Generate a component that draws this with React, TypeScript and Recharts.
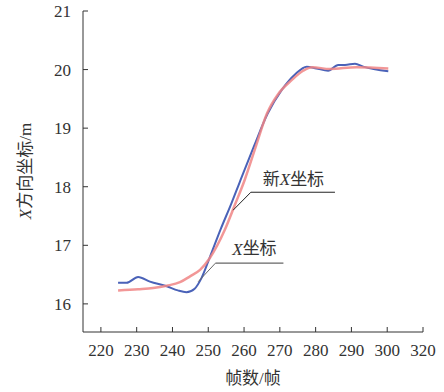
import React from "react"
import {
  LineChart,
  Line,
  XAxis,
  YAxis,
  ReferenceLine,
  ReferenceDot,
} from "recharts"

// ── Data ─────────────────────────────────────────────────────────────────────
const xTicks = [220, 230, 240, 250, 260, 270, 280, 290, 300, 310]
const xTickLabels = ["220", "230", "240", "250", "260", "270", "280", "290", "300", "320"]
const yTicks = [16, 17, 18, 19, 20, 21]

// X坐标 (raw)
const rawFrames = [224.8, 227.2, 230.4, 233.7, 238.4, 241.5, 243.9, 246.2, 248.1, 250.4, 253.5, 256.5, 258.8, 262.7, 266.6, 270.5, 274.3, 277.5, 280.2, 283.5, 286.3, 288.2, 291, 293.3, 300.3]
const rawX = [16.36, 16.36, 16.46, 16.38, 16.3, 16.23, 16.2, 16.26, 16.44, 16.79, 17.28, 17.72, 18.08, 18.68, 19.25, 19.65, 19.92, 20.05, 20.02, 19.98, 20.08, 20.08, 20.1, 20.05, 19.97]

// 新X坐标 (smoothed)
const newFrames = [224.8, 230.4, 234.6, 238.4, 242.1, 244.9, 247.7, 250.4, 254.6, 257.5, 260.2, 263.3, 266.4, 269.5, 273.3, 276.5, 279, 284, 291.4, 300.3]
const newX = [16.23, 16.25, 16.27, 16.31, 16.37, 16.47, 16.58, 16.78, 17.26, 17.7, 18.12, 18.69, 19.25, 19.58, 19.82, 19.98, 20.04, 20.01, 20.04, 20.02]

const rawData = rawFrames.map((f, i) => ({ frame: f, value: rawX[i] }))
const newData = newFrames.map((f, i) => ({ frame: f, value: newX[i] }))

const FONT = "'Liberation Serif', 'Noto Sans CJK SC', serif"
const TEXT = "#333"

function AnnotationText({ viewBox, children }: any) {
  const cx = viewBox.x + viewBox.width / 2
  const cy = viewBox.y + viewBox.height / 2
  return (
    <text x={cx} y={cy} textAnchor="middle" dominantBaseline="central" fontSize={17} fontFamily={FONT} fill={TEXT}>
      {children}
    </text>
  )
}

export default function App() {
  return (
    <div style={{ position: "fixed", left: 0, top: 0, width: 444, height: 392, background: "#fff" }}>
      <LineChart width={444} height={392} margin={{ top: 11, right: 21, left: 0, bottom: 0 }}>
        <XAxis
          type="number"
          dataKey="frame"
          domain={[215, 310]}
          ticks={xTicks}
          tickFormatter={(v: number) => xTickLabels[xTicks.indexOf(v)] ?? String(v)}
          tickSize={-5}
          tickMargin={17}
          height={60}
          stroke={TEXT}
          tick={{ fontSize: 17, fontFamily: FONT, fill: TEXT }}
          allowDataOverflow
          label={{ value: "帧数/帧", position: "insideBottom", offset: 8, style: { fontSize: 17, fontFamily: FONT, fill: TEXT } }}
        />
        <YAxis
          type="number"
          domain={[15.52, 21]}
          ticks={yTicks}
          tickSize={-5}
          tickMargin={17}
          width={83}
          stroke={TEXT}
          tick={{ fontSize: 17, fontFamily: FONT, fill: TEXT }}
          allowDataOverflow
          label={{
            content: () => (
              <text
                x={25}
                y={171}
                transform="rotate(-90, 25, 171)"
                textAnchor="middle"
                dominantBaseline="central"
                fontSize={17}
                fontFamily={FONT}
                fill={TEXT}
              >
                <tspan fontStyle="italic">X</tspan>方向坐标/m
              </text>
            ),
          }}
        />
        <Line
          data={rawData}
          dataKey="value"
          type="monotone"
          stroke="#4a62b8"
          strokeWidth={2}
          dot={false}
          isAnimationActive={false}
        />
        <Line
          data={newData}
          dataKey="value"
          type="monotone"
          stroke="#f08585"
          strokeOpacity={0.85}
          strokeWidth={2.5}
          dot={false}
          isAnimationActive={false}
        />
        {/* leader lines */}
        <ReferenceLine segment={[{ x: 256.95, y: 17.6 }, { x: 261.9, y: 17.906 }]} stroke="#222" strokeWidth={1} />
        <ReferenceLine segment={[{ x: 261.9, y: 17.906 }, { x: 285.4, y: 17.906 }]} stroke="#222" strokeWidth={1} />
        <ReferenceLine segment={[{ x: 247.2, y: 16.38 }, { x: 252.0, y: 16.695 }]} stroke="#666" strokeWidth={1} />
        <ReferenceLine segment={[{ x: 252.0, y: 16.695 }, { x: 271.0, y: 16.695 }]} stroke="#666" strokeWidth={1.2} />
        <ReferenceDot
          x={273.8}
          y={18.13}
          r={0}
          stroke="none"
          label={{
            content: (p: any) => (
              <AnnotationText viewBox={p.viewBox}>
                新<tspan fontStyle="italic">X</tspan>坐标
              </AnnotationText>
            ),
          }}
        />
        <ReferenceDot
          x={262.9}
          y={16.94}
          r={0}
          stroke="none"
          label={{
            content: (p: any) => (
              <AnnotationText viewBox={p.viewBox}>
                <tspan fontStyle="italic">X</tspan>坐标
              </AnnotationText>
            ),
          }}
        />
      </LineChart>
    </div>
  )
}
